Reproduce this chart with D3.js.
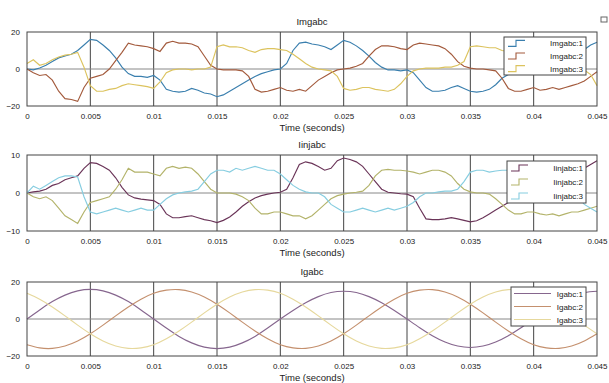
<!DOCTYPE html>
<html>
<head>
<meta charset="utf-8">
<script src="https://cdn.jsdelivr.net/npm/d3@7"></script>
<style>
  body { margin: 0; background: #fff; }
  svg { display: block; font-family: "Liberation Sans", Arial, sans-serif; }
</style>
</head>
<body>
<div class="scope"></div>
<script>
// sample instants (s) of the scope traces
const timeFine = d3.range(0, 91).map(i => i * 0.0005);
const timeCoarse = d3.range(0, 46).map(i => i * 0.001);

const xTicks = [0, 0.005, 0.01, 0.015, 0.02, 0.025, 0.03, 0.035, 0.04, 0.045];
const xTickLabels = ['0', '0.005', '0.01', '0.015', '0.02', '0.025', '0.03', '0.035', '0.04', '0.045'];

// Imgabc
const imgabc1 = [0, -0.5, 0.5, 2, 4, 6, 7, 8, 10, 13, 16, 15.5, 13, 10, 6, 1, -2.5, -4, -4, -4.5,
  -3.5, -6, -11, -12, -12.5, -12, -10.5, -11.5, -13, -13.5, -15, -14, -12, -10, -8, -6, -4, -2.5, -1.5, -0.5,
  0, 3, 10, 14, 14.5, 13.5, 13, 12, 10.5, 13, 15.5, 14.5, 12.5, 10, 7, 3.5, 1, -0.5, -0.5, -1,
  -0.5, -2, -6, -10, -12, -12, -11.5, -10, -9, -10.5, -12, -12.5, -12, -11, -8.5, -5, -3, -1.5, -1, -0.5,
  0, 3, 10, 13.5, 14, 13.5, 13, 12, 10.5, 13, 14.5];
const imgabc2 = [0, -2, -3.5, -3, -6, -12, -16, -16.5, -17.5, -10, -5, -4, -3, 0, 4.5, 9, 14, 13, 12.5, 12,
  11, 9.5, 14, 15, 14, 14, 13.5, 12, 7, 2, 0, -0.5, -0.5, -0.5, -1, -4, -11, -12.5, -12, -11,
  -10, -11.5, -12, -11, -12, -9, -6, -4, -2, -0.5, 0, 0.5, 1.5, 3, 7, 10.5, 12.5, 12.5, 12, 11,
  10.5, 13, 14, 13.5, 13, 12.5, 11, 8, 4, 1.5, 0.5, 0, 0, -0.5, -1, -5, -10.5, -12, -12, -11,
  -10, -11.5, -11, -10, -11, -10, -9, -8, -6.5, -4, -1.5];
const imgabc3 = [3, 5, 2, 3, 5, 6.5, 7.5, 8, 9, 1, -9, -12, -12, -11, -10.5, -9, -8, -8.5, -9, -9.5,
  -10.5, -7, -2, -0.5, 0, 0, -0.5, 0, 0, 1, 12, 13, 12, 12, 11.5, 10, 9, 10.5, 11, 11,
  10.5, 10, 8, 5.5, 3, 1, 0, -0.5, -1, -4, -10.5, -11.5, -11, -10, -10, -11, -11.5, -12, -11, -8,
  -4, -1, 0, 0.5, 0.5, 0.5, 1, 1, 2, 4, 12, 12.5, 12, 11.5, 11.5, 10, 9.5, 10, 10.5, 10,
  9.5, 8, 6, 4, 2, 1, 0.5, 0, -0.5, -3, -9];

// Iinjabc
const iinjabc1 = [0, 0.3, 0.5, 1, 2, 2.5, 3.5, 4, 4.5, 6.5, 8, 7.8, 7, 6, 4, 1.5, -0.5, -1.3, -1.6, -1.8,
  -2, -3, -5.5, -6.5, -6.5, -6.2, -6, -6.5, -7, -7.3, -7.8, -7.2, -6.3, -5, -3.5, -2.3, -1.3, -0.7, -0.3, 0,
  0.2, 1, 4, 7.5, 8.2, 7.8, 7, 6, 6.5, 8.5, 9.2, 8.8, 8.2, 7, 5, 3, 1, 0.2, 0, -0.2,
  -0.3, -1, -4, -6.8, -7, -7, -6.8, -6.5, -6.8, -7.2, -7.6, -7.3, -6.5, -5.5, -4.5, -3.5, -2.5, -1.5, -0.8, -0.3,
  0, 1, 4, 7.5, 8, 7.8, 7, 6, 6.5, 7.5, 8.5];
const iinjabc2 = [0, -1, -1.5, -1, -2, -4, -6, -7, -8, -5, -2.5, -2, -1.5, -1, 1, 3.5, 6.5, 5.5, 5.5, 5.5,
  5, 4.5, 6.5, 7, 6.5, 6.8, 6.5, 5, 3, 1, 0, 0, 0, -0.3, -1, -2, -4, -5.5, -5.5, -5,
  -5, -5.5, -6, -6, -6.8, -6, -4.5, -3, -1.5, -0.7, -0.3, 0, 0.2, 0.5, 2, 4.5, 6, 6.2, 6, 6,
  5.8, 5.5, 5, 5.5, 6, 6, 5.5, 4.5, 2.5, 1, 0.3, 0, 0, -0.3, -1.5, -3, -4.5, -5.5, -5.5, -5,
  -5, -5.5, -5.8, -5.5, -6, -5.5, -5, -5, -4.5, -4, -3.5];
const iinjabc3 = [0, 1.8, 1, 2, 3, 4, 4.5, 4.5, 4.2, -1, -5, -5.5, -5, -4.5, -4, -4.5, -5, -4.5, -4, -4.5,
  -4.5, -3, -1.5, -0.5, 0, 0.3, 0.5, 1, 3, 5, 6, 6, 5.5, 6.5, 6, 6.5, 7, 6.5, 6, 6,
  5, 3.5, 2, 1, 0.3, 0, 0, -1, -3, -4, -5, -5, -4.5, -4, -4.5, -5, -4.5, -4, -4.5, -4,
  -3.5, -2.5, -1, 0, 0, 0.3, 0.5, 0.5, 1, 3, 5.5, 6, 6, 5.5, 5.8, 6, 6, 6.5, 6, 5.5,
  5, 3.5, 2, 1, 0.3, 0, 0, -1, -3, -4, -5];

// Igabc
const igabc1 = [0, 4.9, 9.4, 12.9, 15.2, 16, 15.2, 12.9, 9.4, 4.9, 0, -4.9, -9.4, -12.9, -15.2, -16, -15.2, -12.9, -9.4, -4.9,
  0, 4.6, 8.8, 12.1, 14.3, 15, 14.3, 12.1, 8.8, 4.6, 0, -4.7, -9, -12.4, -14.6, -15.4, -14.6, -12.4, -9, -4.7,
  0, 4.6, 8.8, 12.1, 14.3, 15];
const igabc2 = [-13.9, -15.6, -15.9, -14.6, -11.9, -8, -3.3, 1.7, 6.5, 10.7, 13.9, 15.6, 15.9, 14.6, 11.9, 8, 3.3, -1.7, -6.5, -10.7,
  -13.9, -15.6, -15.9, -14.6, -11.9, -8, -3.3, 1.7, 6.5, 10.7, 13.9, 15.6, 15.9, 14.6, 11.9, 8, 3.3, -1.7, -6.5, -10.7,
  -13.9, -15.6, -15.9, -14.6, -11.9, -8];
const igabc3 = [13.9, 10.7, 6.5, 1.7, -3.3, -8, -11.9, -14.6, -15.9, -15.6, -13.9, -10.7, -6.5, -1.7, 3.3, 8, 11.9, 14.6, 15.9, 15.6,
  13.9, 10.7, 6.5, 1.7, -3.3, -8, -11.9, -14.6, -15.9, -15.6, -13.9, -10.7, -6.5, -1.7, 3.3, 8, 11.9, 14.6, 15.9, 15.6,
  13.9, 10.7, 6.5, 1.7, -3.3, -8];

const imgNames = ['Imgabc:1', 'Imgabc:2', 'Imgabc:3'];
const injNames = ['Iinjabc:1', 'Iinjabc:2', 'Iinjabc:3'];
const gNames = ['Igabc:1', 'Igabc:2', 'Igabc:3'];

// canvas
const width = 609;
const height = 383;
const svg = d3.select('.scope').append('svg')
    .attr('width', width)
    .attr('height', height);

const x = d3.scaleLinear().domain([0, 0.045]).range([27, 597]);

const panels = [
  {title: 'Imgabc', top: 32, bottom: 106, domain: [-20, 20], yTicks: [-20, 0, 20], time: timeFine,
   series: [imgabc1, imgabc2, imgabc3], names: imgNames,
   colors: ['#3a7fae', '#a35a3c', '#dcc35e'], curve: d3.curveLinear,
   legend: {x0: 504, x1: 586, y0: 37, y1: 75}, symbol: 'step'},
  {title: 'Iinjabc', top: 155, bottom: 231, domain: [-10, 10], yTicks: [-10, 0, 10], time: timeFine,
   series: [iinjabc1, iinjabc2, iinjabc3], names: injNames,
   colors: ['#6a3458', '#b3b36a', '#86cde0'], curve: d3.curveLinear,
   legend: {x0: 507, x1: 586, y0: 161, y1: 203}, symbol: 'step'},
  {title: 'Igabc', top: 282, bottom: 356, domain: [-20, 20], yTicks: [-20, 0, 20], time: timeCoarse,
   series: [igabc1, igabc2, igabc3], names: gNames,
   colors: ['#86668e', '#c4906e', '#e6d89c'], curve: d3.curveNatural,
   legend: {x0: 511, x1: 586, y0: 287, y1: 326}, symbol: 'line'}
];

panels.forEach(function(p) {
    const y = d3.scaleLinear().domain(p.domain).range([p.bottom, p.top]);
    const g = svg.append('g');

    // title
    g.append('text')
        .attr('x', (x.range()[0] + x.range()[1]) / 2)
        .attr('y', p.top - 7)
        .attr('text-anchor', 'middle')
        .attr('font-size', 9.5)
        .attr('fill', '#222')
        .text(p.title);

    // grid
    g.selectAll('.vgrid')
        .data(xTicks.slice(1, -1))
        .enter()
        .append('line')
        .attr('x1', d => x(d)).attr('x2', d => x(d))
        .attr('y1', p.top).attr('y2', p.bottom)
        .attr('stroke', '#444')
        .attr('stroke-width', 1);
    g.append('line')
        .attr('x1', x.range()[0]).attr('x2', x.range()[1])
        .attr('y1', y(0)).attr('y2', y(0))
        .attr('stroke', '#888')
        .attr('stroke-width', 1);

    // traces
    const line = d3.line()
        .x((d, i) => x(p.time[i]))
        .y(d => y(d))
        .curve(p.curve);
    g.selectAll('.trace')
        .data(p.series)
        .enter()
        .append('path')
        .attr('d', line)
        .attr('fill', 'none')
        .attr('stroke', (d, i) => p.colors[i])
        .attr('stroke-width', 1.15);

    // frame
    g.append('rect')
        .attr('x', x.range()[0]).attr('y', p.top)
        .attr('width', x.range()[1] - x.range()[0])
        .attr('height', p.bottom - p.top)
        .attr('fill', 'none')
        .attr('stroke', '#444')
        .attr('stroke-width', 1);

    // x axis labels
    const xAxis = d3.axisBottom(x)
        .tickValues(xTicks)
        .tickFormat((d, i) => xTickLabels[i])
        .tickSize(0)
        .tickPadding(7);
    const ax = g.append('g')
        .attr('transform', 'translate(0,' + p.bottom + ')')
        .call(xAxis);
    ax.select('.domain').remove();
    ax.selectAll('text').attr('font-size', 8).attr('fill', '#222')
        .attr('font-family', '"Liberation Sans", Arial, sans-serif');

    // y axis labels
    const yAxis = d3.axisLeft(y)
        .tickValues(p.yTicks)
        .tickFormat(d3.format('d'))
        .tickSize(0)
        .tickPadding(7);
    const ay = g.append('g')
        .attr('transform', 'translate(' + x.range()[0] + ',0)')
        .call(yAxis);
    ay.select('.domain').remove();
    ay.selectAll('text').attr('font-size', 8).attr('fill', '#222')
        .attr('font-family', '"Liberation Sans", Arial, sans-serif');

    // x label
    g.append('text')
        .attr('x', (x.range()[0] + x.range()[1]) / 2)
        .attr('y', p.bottom + 25)
        .attr('text-anchor', 'middle')
        .attr('font-size', 9.5)
        .attr('fill', '#222')
        .text('Time (seconds)');

    // legend
    const L = p.legend;
    const lg = g.append('g');
    lg.append('rect')
        .attr('x', L.x0).attr('y', L.y0)
        .attr('width', L.x1 - L.x0).attr('height', L.y1 - L.y0)
        .attr('fill', '#fff')
        .attr('stroke', '#444')
        .attr('stroke-width', 1);
    const rowH = (L.y1 - L.y0) / 3;
    p.names.forEach(function(name, i) {
        const cy = L.y0 + rowH * (i + 0.5);
        if (p.symbol === 'step') {
            lg.append('path')
                .attr('d', 'M' + (L.x0 + 4) + ',' + (cy + 3) + 'H' + (L.x0 + 12) + 'V' + (cy - 3) + 'H' + (L.x0 + 21))
                .attr('fill', 'none')
                .attr('stroke', p.colors[i])
                .attr('stroke-width', 1.1);
        } else {
            lg.append('line')
                .attr('x1', L.x0 + 3).attr('x2', L.x0 + 40)
                .attr('y1', cy).attr('y2', cy)
                .attr('stroke', p.colors[i])
                .attr('stroke-width', 1.1);
        }
        lg.append('text')
            .attr('x', L.x1 - 3)
            .attr('y', cy + 3)
            .attr('text-anchor', 'end')
            .attr('font-size', 8)
            .attr('fill', '#222')
            .text(name);
    });
});

// small undock icon in the corner
svg.append('rect')
    .attr('x', 601).attr('y', 17)
    .attr('width', 6).attr('height', 5)
    .attr('fill', '#fff')
    .attr('stroke', '#666')
    .attr('stroke-width', 1);
</script>
</body>
</html>
